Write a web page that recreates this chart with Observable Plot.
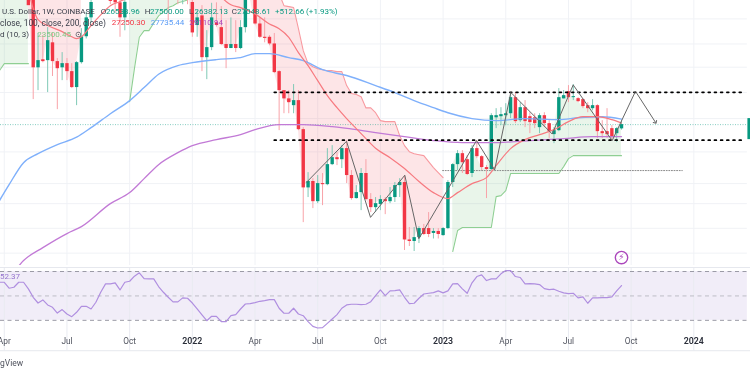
<!DOCTYPE html>
<html><head><meta charset="utf-8">
<script src="https://cdn.jsdelivr.net/npm/d3@7"></script>
<script src="https://cdn.jsdelivr.net/npm/@observablehq/plot@0.6"></script>
<style>
html,body{margin:0;padding:0;background:#fff}
#wrap{position:relative;width:750px;height:375px;overflow:hidden;filter:blur(.55px);font-family:Roboto,sans-serif}
#top,#bot{position:absolute;left:0}
#top{top:0}#bot{top:265px}
.lg{position:absolute;font-size:8px;white-space:pre;line-height:10px;color:#3a3e4a}
svg{display:block}
</style></head><body><div id="wrap"><div id="top"></div><div id="bot"></div></div>
<script>
// weekly candles from 2021-03-29 (BTC/USD 1W)
const opens=[55800,58200,60000,60000,50100,56600,58200,48000,35000,36300,36160,39200,36000,35000,35670,34400,32000,35830,40300,43900,47900,48800,49000,51700,48000,47000,43900,48200,54900,60900,60900,61300,65500,65500,59000,57200,49400,50100,47700,50800,47070,42400,44300,36650,38360,42900,42000,38900,38200,38900,38200,42000,47600,47600,42700,40200,40200,39000,34400,31560,30400,29480,30160,26440,20300,20900,19070,20700,20600,22560,23280,23070,24260,21470,19340,19870,21670,19250,18560,18820,19250,19070,19430,20510,20800,16030,15920,16200,16880,16880,16510,16660,16350,16880,20800,22560,23710,23070,21670,24260,23390,22260,22060,27900,28040,28170,28420,30570,27540,29210,28040,27900,26680,28170,27170,25850,26320,30400,31400,30570,30430,30300,29480,29080,29480,26200,26200,26560,25960,26534];
const highs=[60100,61300,64900,61500,58500,59500,59600,48000,40900,40500,42000,40900,36500,37500,36500,35670,36000,41800,45000,48000,49000,50500,52000,52900,50000,48000,49000,56000,62000,67000,63000,66000,69000,66000,59600,59100,51000,50500,49000,52000,48000,45400,46400,41430,46900,47000,46200,43350,43900,43350,43350,48000,48000,48000,43900,43900,40500,40900,34550,31400,31560,32440,31560,26680,21760,21170,21470,21670,24260,24590,23820,24590,25160,21960,20510,22160,23080,19780,19430,19600,19430,20330,20800,21170,21470,16960,16960,17030,17200,18150,16880,16880,16960,20980,22660,24040,24040,23500,24590,25160,23500,22460,28420,29080,29210,29740,31280,31280,29880,30160,28550,28420,28420,28550,27540,26680,31850,31560,32290,32440,30570,30430,29880,30300,29610,27540,29080,26925,26680,27500];
const lows=[55700,55500,58000,47800,47800,52900,47800,30300,31560,35800,31280,33650,28950,33020,33020,31850,29480,35600,39900,42900,47800,48000,48000,46600,44900,40200,41400,48000,53900,59500,58000,60000,62300,55700,53500,43350,47900,46600,46600,46600,40200,40200,34400,33170,37830,42100,38700,34860,38200,37500,38000,41000,47700,42500,40000,39200,38700,34100,26320,28420,28420,28420,26320,17340,19430,18480,18900,18730,20500,22460,22460,22160,20700,19200,19300,18310,19200,18150,18150,18310,17980,18900,19000,19430,15280,15560,15210,15770,16350,16200,16100,16100,16300,16800,20330,21960,21670,21470,21270,23180,21960,19340,21960,26560,26925,26925,27800,27170,27300,26680,25960,26560,25960,26680,25390,24810,26200,30400,29880,30160,29880,29080,28550,28820,25390,25390,25390,25160,24930,26382];
const closes=[58200,60000,60000,50100,56600,58200,46400,35000,36160,36000,39590,36000,34860,35670,34400,32000,35830,40300,43900,47070,48800,49000,51700,47300,47000,43900,47100,54900,60900,60900,61300,65500,65500,59000,57200,49400,50100,47700,48000,50700,41000,43900,36650,38360,43900,42400,38900,38200,38900,38200,42000,47600,47900,42700,40200,40000,39000,34250,31560,30400,29880,30160,26440,20300,20900,19070,20700,20600,22560,23280,23070,24260,21470,19340,19870,21670,19250,18560,18900,19250,19070,19430,20510,20800,16030,15920,16200,16880,16430,16430,16660,16430,16880,20800,22560,23710,22760,21570,24260,23390,22260,22060,28170,28170,28300,28420,30570,27420,29210,27420,27300,27170,28170,27170,26200,26320,30570,30850,30570,30710,30020,29350,29080,29480,26200,25960,25850,25500,26560,27048];

// supertrend runs: first week index, then one value per week
const upStart1=0, upTrail1=[34550,35670,35670,35670,35670,35670,35670];
const downStart1=6, downTrail1=[62000,61000,60000,59000,58500,58000,57500,57000,56500,56000,55500,55000];
const upStart2=27, upTrail2=[30020,34900,40200,41430,41430,42900,44300,45100,46000,46400,47000,47300,47600];
const downStart2=39, downTrail2=[62000,62000,62000,61000,60000,60000,60000,59000,58000,57000,57000,56000,56000,55000,54000,54000,53000,52000,52000,49000,46400,46200,46000,41800,37830,35670,35180,34860,34700,34550,34550,34400,34400,32290,31140,31000,30700,29180,29180,28550,27540,27420,27420,27420,25730,24590,23930,23710,23600,23500,22860,22260,21760,21270];
const upStart3=94, upTrail3=[15210,16730,16960,16960,16960,16960,16960,16960,16960,19510,19600,20050,21670,21670,21670,21670,21670,21670,21670,21670,21670,21670,21670,22360,23180,23500,23500,23500,23500,23500,23500,23500,23500,23500,23500,23500];

// moving averages: week index and value
const ma20Weeks=[6,7,8,10,13,15,16,17,19,21,23,25,27,30,35,40,45,47,48,50,53,56,58,60,62,64,66,68,70,72,74,76,78,81,84,87,90,93,95,98,101,103,106,109,112,115,118,121,124,127,129];
const ma20Vals=[49800,45800,43530,42400,41240,40300,39950,40300,42400,44500,46400,47300,48400,52000,58000,53000,49300,47300,46600,46000,44700,42700,41800,40200,37500,35350,33020,30850,29210,27800,26560,25390,24300,23280,22160,20900,19870,19340,19870,20700,21270,22460,24260,25270,25850,26440,27420,28040,28040,27670,27250];
const ma100Weeks=[0,2,5,8,12,16,19,23,27,30,33,37,40,45,50,53,56,60,63,67,72,78,82,86,90,93,98,103,109,116,120,125,129];
const ma100Vals=[19160,20600,22760,23710,24700,25550,26680,28420,30160,32000,34000,35350,35830,36330,36650,37330,37330,36650,36160,34700,33800,32290,31280,30160,29210,28550,27800,27540,27800,27670,27900,28040,27735];
const ma200Weeks=[0,3,5,9,14,17,23,27,30,33,37,40,45,50,53,58,63,69,74,78,84,90,96,103,110,117,123,129];
const ma200Vals=[13270,13890,14600,15480,16500,17030,18900,19870,21170,22560,23820,24590,25270,25850,26440,27048,27048,26800,26440,26090,25610,25160,24930,24930,25160,25390,25610,25610];

// RSI (14), one value per week
const rsiVals=[61.2,61.2,56.3,57.1,61.2,61.2,55.8,48.9,44.2,46.7,42.6,40.7,36,38.8,35.2,33,36.6,41.5,41.5,39.3,44.8,53,59.9,59.9,60.7,54.9,61.2,62,66.2,68.9,64.2,64,64,57.7,53,48.9,45.1,45.1,48.4,48.1,44.2,39.3,34.4,29.7,33.3,33.3,28.9,28.9,33.8,34.7,39.3,43.4,43.7,44.5,45.6,46.2,47,47,39.9,35.8,35.8,39.9,35.2,33.8,28.9,25.1,23.7,24,27.5,31.1,34.7,39.9,42.6,43.2,43.2,42.9,43.2,45.3,50.3,54.9,50.3,54.1,54.4,54.9,48.9,43.7,44,48.1,51.6,52.2,52.7,54.1,52.5,54.1,59.9,60.1,55.8,52.2,60.7,65.9,67.3,62.6,64,64,68.1,70.8,70.8,65.9,65.1,59.9,60.1,59.9,59.3,56,55.2,55.5,53.8,52.5,51.9,52.2,48.4,49.2,44,48.4,48.4,48.6,48.6,49.2,54.1,58.5];

// drawn annotations
const zigWeeks=[63.68,71.97,76.95,84.06,86.97,98.93,102.7,106.05,114.63,118.98,127.07,131.9,136.05];
const zigPrices=[20820,25080,17760,21500,16120,25160,22030,31300,25920,32390,25160,31460,27330];
const resistance=31316, support=25212, grayLevel=21960, lastClose=27048;
const levelWeeks=[57,154.3], grayWeeks=[91.9,141.6];
const gridPrices=[43700,39000,35100,31300,27800,23900,20700,18900,16900,15100];
const tickDates=["2021-04-05","2021-07-05","2021-10-04","2022-01-03","2022-04-04","2022-07-04","2022-10-03","2023-01-02","2023-04-03","2023-07-03","2023-10-02","2024-01-01"];
const tickLabels=["Apr","Jul","Oct","2022","Apr","Jul","Oct","2023","Apr","Jul","Oct","2024"];
const rsiLevels=[70,50,30], paneEdges=[73.3,5.1];
const boltPrice=14800, badgeRange=[27800,25270];

const base=Date.UTC(2021,2,29), WEEK=7*864e5;
const week=i=>new Date(base+i*WEEK);
const domainX=[week(0.2178),week(155.75)], paneEnd=week(155.1);
const xScale={domain:domainX,range:[0,750],type:"utc",axis:null};

const candles=closes.map((c,i)=>({t:week(i),o:opens[i],h:highs[i],l:lows[i],c,up:c>=opens[i]}));
const run=(start,vals)=>vals.map((v,k)=>({t:week(start+k),stop:v,close:closes[start+k]}));
const ups=[run(upStart1,upTrail1),run(upStart2,upTrail2),run(upStart3,upTrail3)];
const downs=[run(downStart1,downTrail1),run(downStart2,downTrail2)];
const ser=(w,v)=>w.map((k,i)=>({t:week(k),v:v[i]}));
const UPC="#089981",DNC="#f23645";

const topPlot=Plot.plot({
  width:750,height:265,margin:0,style:{background:"transparent"},
  x:xScale,
  y:{type:"log",domain:[47500,14276],range:[0,265],axis:null},
  marks:[
    Plot.ruleX(tickDates.map(d=>new Date(d)),{stroke:"#f0f2f6",strokeWidth:1}),
    Plot.ruleY(gridPrices,{x1:()=>domainX[0],x2:()=>paneEnd,stroke:"#f0f2f6",strokeWidth:1}),
    ...ups.map(d=>Plot.areaY(d,{x:"t",y1:"stop",y2:"close",fill:"#4caf50",fillOpacity:.12})),
    ...downs.map(d=>Plot.areaY(d,{x:"t",y1:"stop",y2:"close",fill:DNC,fillOpacity:.13})),
    ...ups.map(d=>Plot.line(d,{x:"t",y:"stop",stroke:"#8fcf93",strokeWidth:1.1})),
    ...downs.map(d=>Plot.line(d,{x:"t",y:"stop",stroke:"#f89aa0",strokeWidth:1.1})),
    Plot.line(ser(grayWeeks,[grayLevel,grayLevel]),{x:"t",y:"v",stroke:"#8a8a8a",strokeWidth:1,strokeDasharray:"1,1.6"}),
    Plot.ruleY([lastClose],{x1:()=>domainX[0],x2:()=>paneEnd,stroke:UPC,strokeOpacity:.55,strokeWidth:.9,strokeDasharray:"1,1.5"}),
    Plot.ruleX(candles,{x:"t",y1:"l",y2:"h",stroke:d=>d.up?"#7fc9b6":"#f8a3a9",strokeWidth:1}),
    Plot.ruleX(candles,{x:"t",y1:"o",y2:"c",stroke:d=>d.up?UPC:DNC,strokeWidth:3.4}),
    Plot.line(ser(ma200Weeks,ma200Vals),{x:"t",y:"v",stroke:"#c27ad6",strokeWidth:1.3,curve:"monotone-x"}),
    Plot.line(ser(ma100Weeks,ma100Vals),{x:"t",y:"v",stroke:"#7fb0fb",strokeWidth:1.4,curve:"monotone-x"}),
    Plot.line(ser(ma20Weeks,ma20Vals),{x:"t",y:"v",stroke:"#f77a80",strokeWidth:1.2,curve:"monotone-x"}),
    Plot.line(ser(levelWeeks,[resistance,resistance]),{x:"t",y:"v",stroke:"#000",strokeWidth:1.8,strokeDasharray:"1.8,4.4"}),
    Plot.line(ser(levelWeeks,[support,support]),{x:"t",y:"v",stroke:"#000",strokeWidth:1.8,strokeDasharray:"1.8,4.4"}),
    Plot.line(ser(zigWeeks,zigPrices),{x:"t",y:"v",stroke:"#666",strokeWidth:1,markerEnd:"arrow"}),
    Plot.ruleX([week(155.47)],{y1:()=>badgeRange[0],y2:()=>badgeRange[1],stroke:UPC,strokeWidth:3.5}),
    Plot.dot([{t:week(129),v:boltPrice}],{x:"t",y:"v",r:6.2,stroke:"#ab47bc",strokeWidth:1.4,fill:"#fff"}),
    Plot.text([{t:week(129),v:boltPrice}],{x:"t",y:"v",text:()=>"\u26A1\uFE0E",fontSize:9,fill:"#ab47bc",fontFamily:"DejaVu Sans"})
  ]
});
document.getElementById("top").append(topPlot);

const rsiRows=rsiVals.map((v,i)=>({t:week(i),v}));
const ticks=tickDates.map((d,i)=>({t:new Date(d),s:tickLabels[i],year:/^\d/.test(tickLabels[i])}));
const botPlot=Plot.plot({
  width:750,height:110,margin:0,style:{background:"transparent"},
  x:xScale,
  y:{domain:[74.93,-15.2],range:[0,110],axis:null},
  marks:[
    Plot.rect([{a:domainX[0],b:paneEnd}],{x1:"a",x2:"b",y1:()=>rsiLevels[0],y2:()=>rsiLevels[2],fill:"#7e57c2",fillOpacity:.11}),
    Plot.ruleX(ticks,{x:"t",y1:()=>paneEdges[0],y2:()=>paneEdges[1],stroke:"#e9ebf1",strokeWidth:1}),
    Plot.ruleY(paneEdges,{stroke:"#e6e8ee",strokeWidth:1}),
    Plot.ruleY(rsiLevels,{x1:()=>domainX[0],x2:()=>paneEnd,stroke:d=>d===50?"#bdbdc6":"#9a9aa5",strokeWidth:1,strokeDasharray:"4,3.5"}),
    Plot.line(rsiRows,{x:"t",y:"v",stroke:"#b08fe0",strokeWidth:1.2}),
    Plot.text(ticks.filter(d=>!d.year),{x:"t",text:"s",frameAnchor:"bottom",dy:-32,fontSize:8.3,fill:"#50535e",fontFamily:"Roboto"}),
    Plot.text(ticks.filter(d=>d.year),{x:"t",text:"s",frameAnchor:"bottom",dy:-32,fontSize:8.8,fontWeight:600,fill:"#2a2e39",fontFamily:"Roboto"})
  ]
});
document.getElementById("bot").append(botPlot);

// legend overlay
const wrap=document.getElementById("wrap");
const put=(x,y,t,c,w)=>{const e=document.createElement("div");e.className="lg";e.style.left=x+"px";e.style.top=y+"px";e.textContent=t;if(c)e.style.color=c;if(w)e.style.fontWeight=w;wrap.append(e);return e};
const GR="#089981",DK="#3a3e4a";
put(2,7,"U.S. Dollar, 1W, COINBASE");
[[100.7,"O","26533.96"],[144.7,"H","27500.00"],[189,"L","26382.13"],[231.7,"C","27048.61"]].forEach(([x,a,b])=>{put(x,7,a,DK);put(x+5.4,7,b,GR)});
put(275,7,"+512.66 (+1.93%)",GR);
put(0,18,"close, 100, close, 200, close)").style.fontSize="8.4px";
put(111.7,18,"27250.30","#f23645");
put(150.7,18,"27735.44","#5b9cf6");
put(189.3,18,"29110.94","#ab47bc");
put(0,30,"d (10, 3)");
put(37.3,30,"23500.45","#81c784");
put(75,30,"\u2299");
put(0,272,"52.37","#9575cd");
put(0,358,"gView","#50535e").style.fontSize="8.5px";
</script></body></html>
